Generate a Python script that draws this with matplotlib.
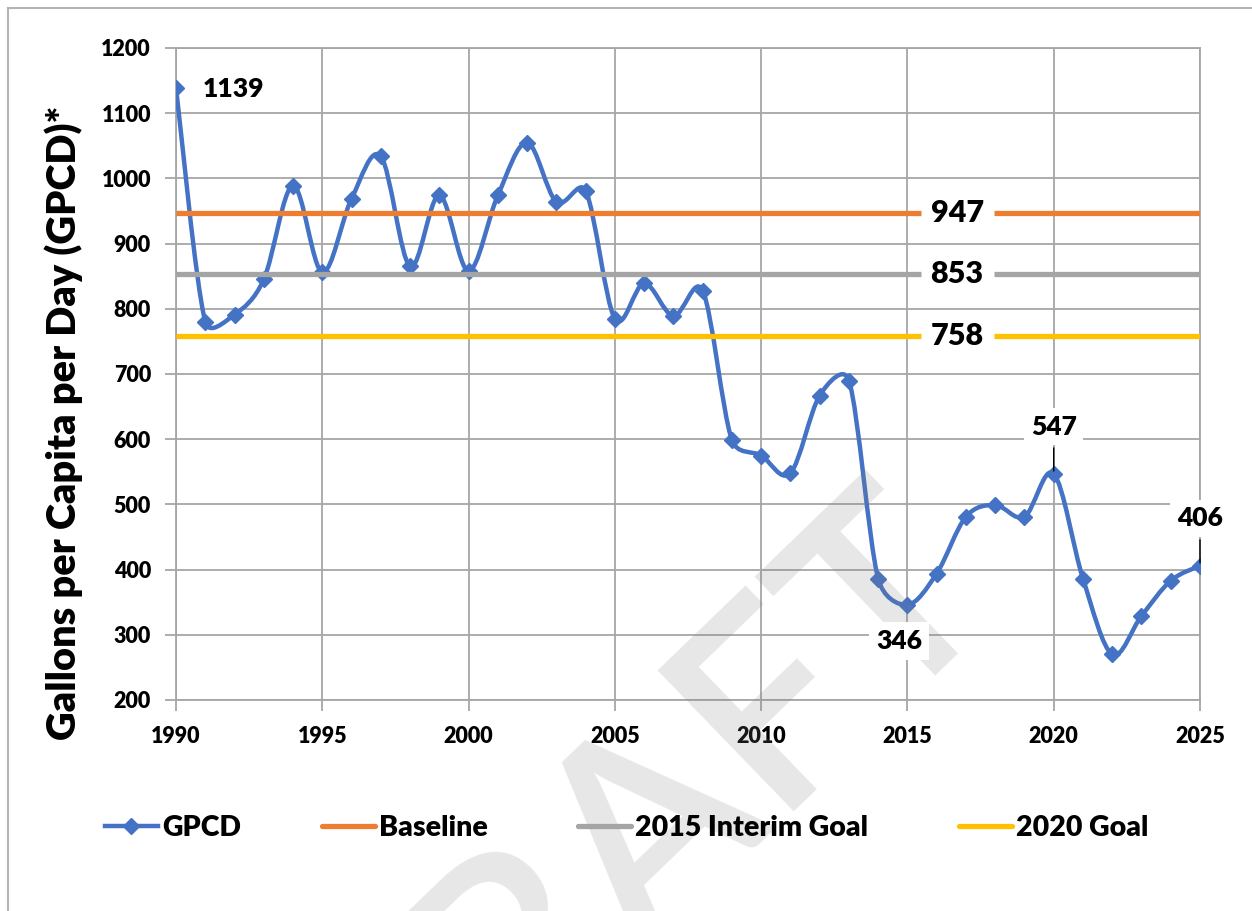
import matplotlib.pyplot as plt
import numpy as np
from matplotlib.lines import Line2D
from matplotlib.patches import PathPatch
from matplotlib.path import Path

# GPCD by year
years = list(range(1990, 2026))
gpcd = [1139, 780, 791, 845, 989, 856, 969, 1034, 865, 974,
        858, 974, 1055, 964, 981, 785, 839, 789, 828, 599,
        575, 548, 667, 690, 386, 346, 394, 481, 499, 481,
        547, 386, 270, 329, 383, 406]

goal_names = ["Baseline", "2015 Interim Goal", "2020 Goal"]
goal_values = [947, 853, 758]
goal_span = [1990, 2025]
goal_label_year = 2016.7

labeled_years = [1990, 2015, 2020, 2025]

BLUE = "#4472C4"
goal_colors = ["#ED7D31", "#A5A5A5", "#FFC000"]
GRID = "#a6a6a6"
WEIGHT = "heavy"

plt.rcParams["font.family"] = ["Lato", "DejaVu Sans"]
plt.rcParams["font.weight"] = WEIGHT

W, H = 1252, 911
fig = plt.figure(figsize=(W / 100, H / 100), dpi=100)
ax = fig.add_axes([176 / W, 1 - 700 / H, 1024 / W, 652 / H])
ax.set_xlim(1990, 2025)
ax.set_ylim(200, 1200)


def excel_smooth(ax, xs, ys):
    """Smoothed line like Excel: bezier tangents of 1/6, capped at half a segment (screen space)."""
    pts = ax.transData.transform(np.column_stack([xs, ys]))
    n = len(pts)
    verts = [pts[0]]
    codes = [Path.MOVETO]
    for i in range(n - 1):
        p0, p1 = pts[max(i - 1, 0)], pts[i]
        p2, p3 = pts[i + 1], pts[min(i + 2, n - 1)]
        d12 = np.hypot(*(p2 - p1))
        t1, t2 = p2 - p0, p3 - p1
        d02, d13 = np.hypot(*t1), np.hypot(*t2)
        f1 = 1 / 6 if d02 / 6 < d12 / 2 else d12 / 2 / d02
        f2 = 1 / 6 if d13 / 6 < d12 / 2 else d12 / 2 / d13
        verts += [p1 + t1 * f1, p2 - t2 * f2, p2]
        codes += [Path.CURVE4] * 3
    verts = ax.transData.inverted().transform(np.array(verts))
    return Path(verts, codes)


ax.add_patch(PathPatch(excel_smooth(ax, years, gpcd), facecolor="none",
                       edgecolor=BLUE, lw=3.2, zorder=3, capstyle="round",
                       joinstyle="round"))
ax.plot(years, gpcd, linestyle="none", marker="D", markersize=8.5,
        color=BLUE, zorder=3)

# goal lines, broken where the value label sits
gap = 1.25
for name, val, c in zip(goal_names, goal_values, goal_colors):
    ax.plot([goal_span[0], goal_label_year - gap], [val, val], color=c,
            lw=3.8, zorder=4, solid_capstyle="butt")
    ax.plot([goal_label_year + gap, goal_span[1]], [val, val], color=c,
            lw=3.8, zorder=4, solid_capstyle="butt")
    ax.text(goal_label_year, val, str(val), ha="center", va="center",
            fontsize=22, zorder=7)

# watermark, above the lines but under the data labels
ax.text(628 / W, 1 - 842 / H, "DRAFT", transform=fig.transFigure,
        rotation=44, fontsize=196, fontweight="semibold", color="#7f7f7f",
        alpha=0.19, ha="center", va="center", zorder=5, clip_on=False)

# data labels
box = dict(boxstyle="square,pad=0.25", fc="white", ec="none")
lbl = {yr: v for yr, v in zip(years, gpcd) if yr in labeled_years}
ax.annotate(str(lbl[1990]), (1990, lbl[1990]), xytext=(19, -1),
            textcoords="offset points", ha="left", va="center",
            fontsize=19, zorder=7)
ax.annotate(str(lbl[2015]), (2015, lbl[2015]), xytext=(-6, -26),
            textcoords="offset points", ha="center", va="center",
            fontsize=19, bbox=box, zorder=7)
for yr in (2020, 2025):
    ax.annotate(str(lbl[yr]), (yr, lbl[yr]), xytext=(0, 34),
                textcoords="offset points", ha="center", va="center",
                fontsize=19, bbox=box, zorder=7, annotation_clip=False,
                arrowprops=dict(arrowstyle="-", color="black", lw=1,
                                shrinkA=2, shrinkB=2))

ax.set_xticks(range(1990, 2026, 5))
ax.set_yticks(range(200, 1201, 100))
ax.grid(True, color=GRID, lw=1.3)
ax.set_axisbelow(True)
for s in ax.spines.values():
    s.set_color(GRID)
    s.set_linewidth(1.3)
ax.tick_params(axis="both", length=8, width=1.3, color=GRID, labelsize=15.5)
ax.tick_params(axis="x", pad=11)
ax.tick_params(axis="y", pad=10)

fig.text(64 / W, 1 - 423 / H, "Gallons per Capita per Day (GPCD)*",
         rotation=90, ha="center", va="center", fontsize=28.5)

# legend, one entry at a time to keep Excel's spacing
handles = [Line2D([], [], color=BLUE, lw=3.2, marker="D", markersize=8.5)]
handles += [Line2D([], [], color=c, lw=3.8, solid_capstyle="round")
            for c in goal_colors]
names = ["GPCD"] + goal_names
leg_x = [105, 322, 578, 959]
for h, name, x in zip(handles, names, leg_x):
    fig.legend(handles=[h], labels=[name], loc="center left",
               bbox_to_anchor=(x / W, 1 - 828 / H), frameon=False,
               fontsize=20.5, handlelength=1.85, handletextpad=0.15,
               borderpad=0, borderaxespad=0)

# chart frame (left and top edges visible)
fig.add_artist(Line2D([7.5 / W, 7.5 / W], [0, 1 - 7.5 / H], color="#b4b4b4",
                      lw=1.5, transform=fig.transFigure))
fig.add_artist(Line2D([7.5 / W, 1], [1 - 7.5 / H, 1 - 7.5 / H],
                      color="#b4b4b4", lw=1.5, transform=fig.transFigure))

fig.savefig("out.png", dpi=100)
